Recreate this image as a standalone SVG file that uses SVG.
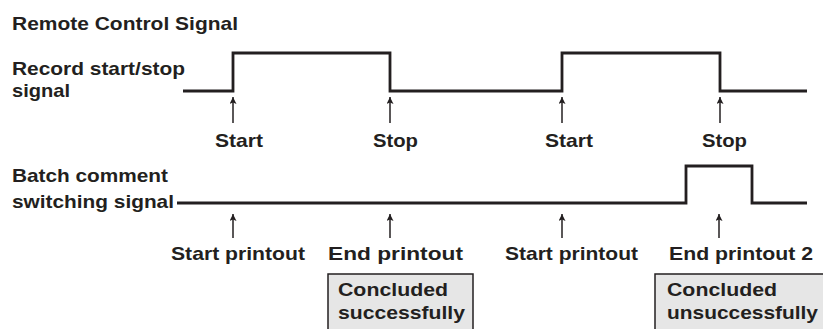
<svg xmlns="http://www.w3.org/2000/svg" width="823" height="329" viewBox="0 0 823 329">
<style>
text{font-family:"Liberation Sans",Arial,sans-serif;font-weight:bold;font-size:19px;fill:#231f20}
.sig{fill:none;stroke:#231f20;stroke-width:2.8;stroke-linejoin:miter}
.arr{stroke:#231f20;stroke-width:1.5;fill:none}
.box{fill:#e6e6e6;stroke:#231f20;stroke-width:1.5}
</style>
<defs>
<marker id="ah" viewBox="0 0 10 10" refX="10" refY="5" markerWidth="9" markerHeight="7" markerUnits="userSpaceOnUse" orient="auto">
<path d="M0,0 L10,5 L0,10 L2,5 Z" fill="#231f20"/>
</marker>
</defs>
<g id="title"><text x="12" y="30" textLength="226" lengthAdjust="spacingAndGlyphs">Remote Control Signal</text></g>
<g id="label-record">
<text x="12" y="75" textLength="173" lengthAdjust="spacingAndGlyphs">Record start/stop</text>
<text x="12" y="97" textLength="58" lengthAdjust="spacingAndGlyphs">signal</text>
</g>
<g id="label-batch">
<text x="12" y="182" textLength="156" lengthAdjust="spacingAndGlyphs">Batch comment</text>
<text x="12" y="208" textLength="162" lengthAdjust="spacingAndGlyphs">switching signal</text>
</g>
<g id="signal-record"><path class="sig" d="M183,91 H233 V53 H390 V91 H562 V53 H720 V91 H807"/></g>
<g id="signal-batch"><path class="sig" d="M177,203 H686 V166 H752 V203 H807"/></g>
<g id="connectors">
<line class="arr" x1="233" y1="123" x2="233" y2="97" marker-end="url(#ah)"/>
<line class="arr" x1="390" y1="123" x2="390" y2="97" marker-end="url(#ah)"/>
<line class="arr" x1="562" y1="123" x2="562" y2="97" marker-end="url(#ah)"/>
<line class="arr" x1="720" y1="123" x2="720" y2="97" marker-end="url(#ah)"/>
<line class="arr" x1="233" y1="238" x2="233" y2="214" marker-end="url(#ah)"/>
<line class="arr" x1="390" y1="238" x2="390" y2="214" marker-end="url(#ah)"/>
<line class="arr" x1="562" y1="238" x2="562" y2="214" marker-end="url(#ah)"/>
<line class="arr" x1="719" y1="238" x2="719" y2="214" marker-end="url(#ah)"/>
</g>
<g id="ev-start1"><text x="215" y="147" textLength="48" lengthAdjust="spacingAndGlyphs">Start</text></g>
<g id="ev-stop1"><text x="373" y="147" textLength="45" lengthAdjust="spacingAndGlyphs">Stop</text></g>
<g id="ev-start2"><text x="545" y="147" textLength="48" lengthAdjust="spacingAndGlyphs">Start</text></g>
<g id="ev-stop2"><text x="702" y="147" textLength="45" lengthAdjust="spacingAndGlyphs">Stop</text></g>
<g id="ev-startp1"><text x="171" y="260" textLength="134" lengthAdjust="spacingAndGlyphs">Start printout</text></g>
<g id="ev-endp1"><text x="328" y="260" textLength="135" lengthAdjust="spacingAndGlyphs">End printout</text></g>
<g id="ev-startp2"><text x="505" y="260" textLength="133" lengthAdjust="spacingAndGlyphs">Start printout</text></g>
<g id="ev-endp2"><text x="669" y="260" textLength="144" lengthAdjust="spacingAndGlyphs">End printout 2</text></g>
<g id="box-success">
<rect class="box" x="328" y="274" width="145" height="60"/>
<text x="338" y="296" textLength="110" lengthAdjust="spacingAndGlyphs">Concluded</text>
<text x="338" y="319" textLength="127" lengthAdjust="spacingAndGlyphs">successfully</text>
</g>
<g id="box-fail">
<rect class="box" x="655" y="274" width="175" height="60"/>
<text x="667" y="296" textLength="110" lengthAdjust="spacingAndGlyphs">Concluded</text>
<text x="667" y="319" textLength="151" lengthAdjust="spacingAndGlyphs">unsuccessfully</text>
</g>
</svg>
